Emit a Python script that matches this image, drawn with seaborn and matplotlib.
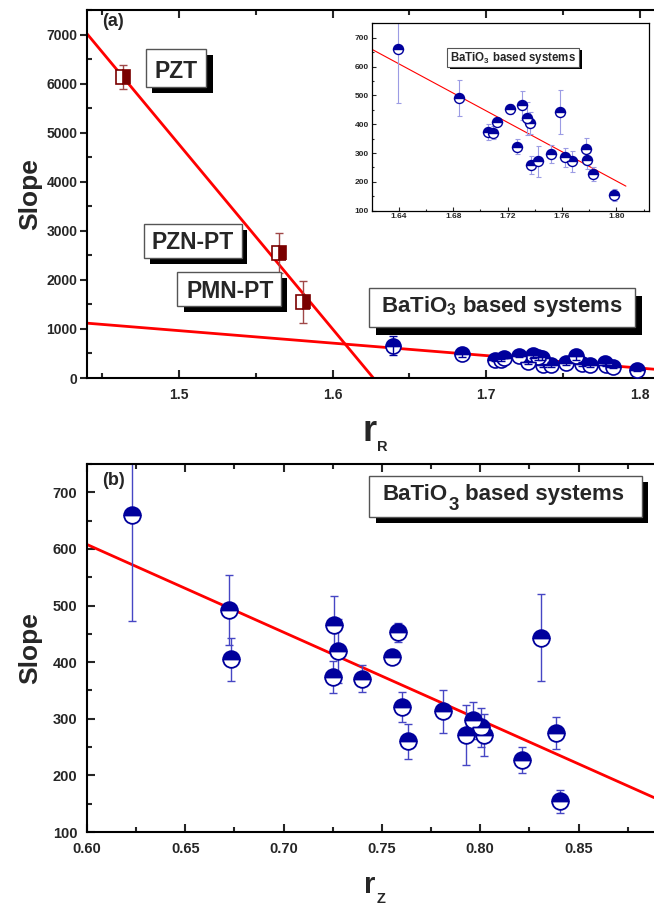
import numpy as np
import pandas as pd
import matplotlib
matplotlib.use("Agg")
import matplotlib.pyplot as plt
import seaborn as sns
from matplotlib.patches import Rectangle
from matplotlib.text import Annotation
from matplotlib.ticker import MultipleLocator, FormatStrFormatter

sns.set_theme(style="ticks")
plt.rcParams['font.family'] = ['Liberation Sans', 'DejaVu Sans']
plt.rcParams['font.weight'] = 'bold'
plt.rcParams['mathtext.fontset'] = 'custom'
plt.rcParams['mathtext.rm'] = 'Liberation Sans:bold'
plt.rcParams['mathtext.bf'] = 'Liberation Sans:bold'
plt.rcParams['mathtext.it'] = 'Liberation Sans:bold'

# Pb-based relaxor / PZT compositions
pb_names = ["PZT", "PZN-PT", "PMN-PT"]
pb_rR = [1.4635, 1.565, 1.5807]
pb_slope = [6130, 2550, 1550]
pb_err = [240, 400, 430]

# BaTiO3-based systems
bt_slope = [660, 492, 405, 465, 420, 374, 371, 453, 409, 321,
            260, 313, 271, 297, 285, 271, 443, 275, 227, 154]
bt_err = [188, 62, 38, 51, 57, 28, 24, 17, 8, 26,
          31, 38, 53, 32, 34, 37, 77, 29, 23, 21]
bt_rR = [1.6396, 1.6844, 1.7364, 1.7307, 1.7340, 1.7057, 1.7094, 1.7217, 1.7119, 1.7271,
         1.7370, 1.7776, 1.7420, 1.7518, 1.7624, 1.7675, 1.7585, 1.7781, 1.7830, 1.7984]
bt_rZ = [0.6227, 0.6724, 0.6732, 0.7256, 0.7278, 0.7250, 0.7400, 0.7583, 0.7550, 0.7600,
         0.7634, 0.7812, 0.7928, 0.7965, 0.8004, 0.8021, 0.8308, 0.8384, 0.8214, 0.8406]

# linear fits: (intercept, slope)
fit_pb_rR = [61159.0, -37600.0]
fit_bt_rR = [4775.0, -2540.0]
fit_bt_rZ = [1537.8, -1550.0]

W, H = 654, 906
fig = plt.figure(figsize=(W / 100, H / 100), dpi=100)
fig.patch.set_facecolor("white")


def fx(px):
    return px / W


def fy(py):
    return 1 - py / H


NAVY = "#00009c"
DARKRED = "#7a0000"
RED = "#ff0000"

ax_a = fig.add_axes([fx(87), fy(378), (W - 87) / W, (378 - 10) / H])
ax_b = fig.add_axes([fx(87), fy(832), (W - 87) / W, (832 - 464) / H])
ax_in = fig.add_axes([fx(371.7), fy(210.7), (649 - 371.7) / W, (210.7 - 23.3) / H])
ax_in.set_zorder(3)


def fit_line(ax, fit, x0, x1, lw):
    xs = np.array([x0, x1])
    df = pd.DataFrame({"x": xs, "y": fit[0] + fit[1] * xs})
    sns.lineplot(data=df, x="x", y="y", ax=ax, color=RED, lw=lw, zorder=1.5)


def style_axes(ax, lw=1.5):
    for s in ["left", "bottom", "top"]:
        ax.spines[s].set_linewidth(lw)
        ax.spines[s].set_color("black")
    ax.spines["right"].set_visible(False)
    ax.set_facecolor("white")


# ---------------- panel (a) ----------------
ax = ax_a
xa0, xa1 = 1.44, 1.8094
fit_line(ax, fit_pb_rR, xa0, -fit_pb_rR[0] / fit_pb_rR[1], 2)
fit_line(ax, fit_bt_rR, xa0, xa1, 2)
ax.errorbar(pb_rR, pb_slope, yerr=pb_err, fmt="none", ecolor="#a04848",
            elinewidth=1, capsize=3.2, capthick=1, zorder=2)
ax.plot(pb_rR, pb_slope, ls="none", marker="s", ms=10.5, fillstyle="right",
        mfc=DARKRED, mfcalt="white", mec=DARKRED, mew=1.2, zorder=3)
ax.plot(bt_rR, bt_slope, ls="none", marker="o", ms=10.8, fillstyle="top",
        mfc=NAVY, mfcalt="white", mec=NAVY, mew=1.2, zorder=3)
ax.errorbar(bt_rR, bt_slope, yerr=bt_err, fmt="none", ecolor=NAVY,
            elinewidth=1, capsize=3, capthick=1, zorder=4)
ax.set_xlim(xa0, xa1)
ax.set_ylim(0, 7500)
ax.xaxis.set_major_locator(MultipleLocator(0.1))
ax.xaxis.set_minor_locator(MultipleLocator(0.05))
ax.yaxis.set_major_locator(MultipleLocator(1000))
ax.yaxis.set_minor_locator(MultipleLocator(500))
style_axes(ax)
ax.tick_params(axis="x", which="major", direction="in", length=6, width=1.5,
               top=True, labelsize=10, pad=7)
ax.tick_params(axis="x", which="minor", direction="in", length=3.5, width=1.5, top=True)
ax.tick_params(axis="y", which="major", direction="out", length=5, width=1.5,
               right=False, labelsize=10, pad=2)
ax.tick_params(axis="y", which="minor", direction="in", length=3.5, width=1.5, right=False)
ax.set_xlabel("")
ax.set_ylabel("Slope", fontsize=19, fontweight="bold", va="center")
ax.yaxis.set_label_coords((30 - 87) / (W - 87), 0.5)
ax.text(fx(101.7), fy(21.7), "(a)", transform=fig.transFigure, fontsize=13,
        fontweight="bold", ha="left", va="center")

# ---------------- inset ----------------
ax = ax_in
fit_line(ax, fit_bt_rR, 1.62, 1.807, 0.8)
ax.errorbar(bt_rR, bt_slope, yerr=bt_err, fmt="none", ecolor="#9c9ce4",
            elinewidth=0.8, capsize=1.8, capthick=0.8, zorder=2)
ax.plot(bt_rR, bt_slope, ls="none", marker="o", ms=7.2, fillstyle="top",
        mfc=NAVY, mfcalt="white", mec=NAVY, mew=1, zorder=3)
ax.set_xlim(1.62, 1.824)
ax.set_ylim(100, 750)
ax.xaxis.set_major_locator(MultipleLocator(0.04))
ax.xaxis.set_minor_locator(MultipleLocator(0.02))
ax.xaxis.set_major_formatter(FormatStrFormatter("%.2f"))
ax.yaxis.set_major_locator(MultipleLocator(100))
ax.yaxis.set_minor_locator(MultipleLocator(50))
for s in ax.spines.values():
    s.set_linewidth(0.9)
    s.set_color("black")
ax.set_facecolor("white")
ax.tick_params(axis="both", which="major", direction="in", length=3, width=0.8,
               labelsize=6, pad=2)
ax.tick_params(axis="both", which="minor", direction="in", length=1.5, width=0.8)
ax.set_xlabel("")
ax.set_ylabel("")

# ---------------- panel (b) ----------------
ax = ax_b
xb0, xb1 = 0.6, 0.8884
fit_line(ax, fit_bt_rZ, xb0, xb1, 2)
ax.errorbar(bt_rZ, bt_slope, yerr=bt_err, fmt="none", ecolor="#4646c4",
            elinewidth=1, capsize=3, capthick=1, zorder=2)
ax.plot(bt_rZ, bt_slope, ls="none", marker="o", ms=12, fillstyle="top",
        mfc=NAVY, mfcalt="white", mec=NAVY, mew=1.3, zorder=3)
ax.set_xlim(xb0, xb1)
ax.set_ylim(100, 750)
ax.xaxis.set_major_locator(MultipleLocator(0.05))
ax.xaxis.set_minor_locator(MultipleLocator(0.025))
ax.xaxis.set_major_formatter(FormatStrFormatter("%.2f"))
ax.yaxis.set_major_locator(MultipleLocator(100))
ax.yaxis.set_minor_locator(MultipleLocator(50))
style_axes(ax)
ax.tick_params(axis="x", which="major", direction="in", length=6, width=1.5,
               top=True, labelsize=10.5, pad=7)
ax.tick_params(axis="x", which="minor", direction="in", length=3.5, width=1.5, top=True)
ax.tick_params(axis="y", which="major", direction="in", length=6, width=1.5,
               right=False, labelsize=10.5, pad=7)
ax.tick_params(axis="y", which="minor", direction="in", length=3.5, width=1.5, right=False)
ax.set_xlabel("")
ax.set_ylabel("Slope", fontsize=19, fontweight="bold", va="center")
ax.yaxis.set_label_coords((30 - 87) / (W - 87), 0.5)
ax.text(fx(101.7), fy(480), "(b)", transform=fig.transFigure, fontsize=13,
        fontweight="bold", ha="left", va="center")

# x-axis labels: large r with a small subscript placed just after it
r_a = fig.text(fx(369.5), fy(441), "r", fontsize=26, fontweight="bold",
               ha="center", va="baseline")
fig.add_artist(Annotation("R", xy=(1, 0), xycoords=r_a, xytext=(0.5, -1.9),
                          textcoords="offset pixels", fontsize=10.5,
                          fontweight="bold", ha="left", va="baseline",
                          annotation_clip=False))
r_b = fig.text(fx(370), fy(893), "r", fontsize=21, fontweight="bold",
               ha="center", va="baseline")
fig.add_artist(Annotation("Z", xy=(1, 0), xycoords=r_b, xytext=(0.5, -3.8),
                          textcoords="offset pixels", fontsize=10.5,
                          fontweight="bold", ha="left", va="baseline",
                          annotation_clip=False))


# ---------------- labelled boxes with drop shadow ----------------
def shadow_box(x0, y0, x1, y1, dx, dy, lw=1.0, z=6):
    fig.add_artist(Rectangle((fx(x0 + dx), fy(y1 + dy)), (x1 - x0) / W, (y1 - y0) / H,
                             transform=fig.transFigure, facecolor="black",
                             edgecolor="none", zorder=z))
    fig.add_artist(Rectangle((fx(x0), fy(y1)), (x1 - x0) / W, (y1 - y0) / H,
                             transform=fig.transFigure, facecolor="white",
                             edgecolor="#555555", lw=lw, zorder=z + 0.1))


shadow_box(145.7, 49.3, 206, 87.3, 6.7, 6)
shadow_box(144, 224, 241.7, 258.3, 5.6, 6)
shadow_box(177.3, 271.7, 281, 306, 6.3, 6.3)
shadow_box(369.3, 287.7, 635.3, 326.7, 6.4, 8.3)
shadow_box(369.3, 476, 641.7, 517.3, 6.6, 6)
shadow_box(447.3, 47.7, 579.3, 66.7, 3, 2.3, lw=0.8, z=8)

label_pos = [(176, 78.3), (193, 249.3), (229.7, 297.7)]
for name, (px, py) in zip(pb_names, label_pos):
    fig.text(fx(px), fy(py), name, fontsize=16.5, fontweight="bold",
             ha="center", va="baseline", zorder=7)

fig.text(fx(502), fy(311.7), r"BaTiO$_{3}$ based systems", fontsize=16,
         fontweight="bold", ha="center", va="baseline", zorder=7)
fig.text(fx(513.3), fy(61), r"BaTiO$_{3}$ based systems", fontsize=8.3,
         fontweight="bold", ha="center", va="baseline", zorder=9)

# panel (b) caption with a full-height lowered "3"
t1 = fig.text(fx(382.7), fy(500), "BaTiO", fontsize=16, fontweight="bold",
              ha="left", va="baseline", zorder=7)
t2 = Annotation("3", xy=(1, 0), xycoords=t1, xytext=(0.5, -5.0),
                textcoords="offset pixels", fontsize=13.5, fontweight="bold",
                ha="left", va="baseline", zorder=7, annotation_clip=False)
fig.add_artist(t2)
t3 = Annotation(" based systems", xy=(1, 0), xycoords=(t2, t1), fontsize=16,
                fontweight="bold", ha="left", va="bottom", zorder=7,
                annotation_clip=False)
fig.add_artist(t3)

fig.savefig("out.png", dpi=100, facecolor="white")
